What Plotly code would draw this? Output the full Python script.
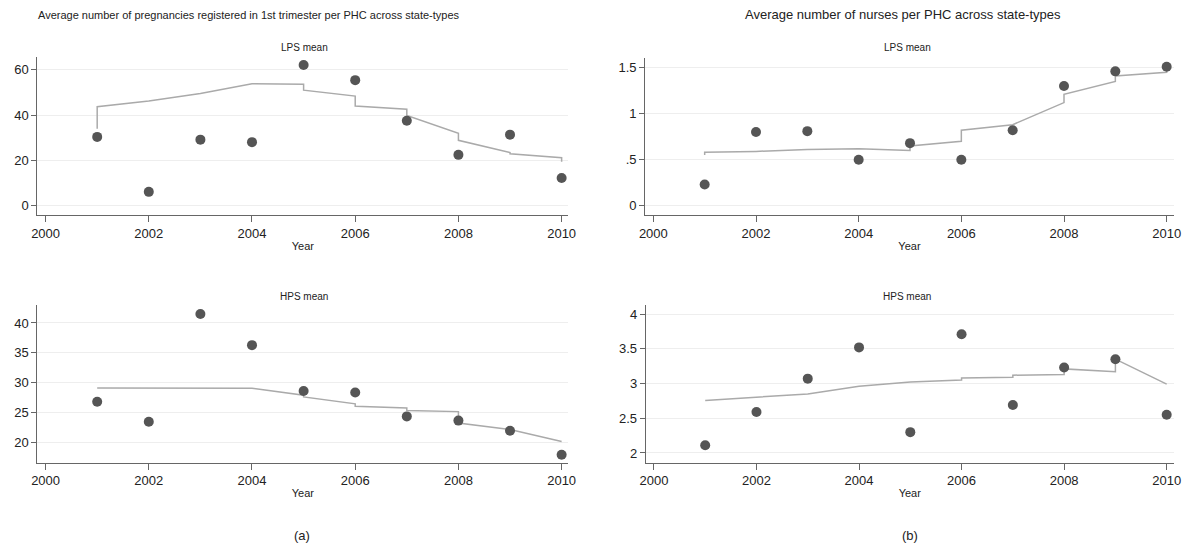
import plotly.graph_objects as go

years = [2001, 2002, 2003, 2004, 2005, 2006, 2007, 2008, 2009, 2010]

# (a) pregnancies registered in 1st trimester per PHC
preg_lps = [30.4, 6.2, 29.2, 28.1, 62.1, 55.4, 37.5, 22.5, 31.4, 12.3]
preg_lps_fit_in = [34.0, 46.2, 49.5, 53.8, 53.6, 48.4, 42.6, 32.0, 23.5, 21.2]
preg_lps_fit_out = [43.7, 46.2, 49.5, 53.8, 51.0, 44.0, 39.8, 28.9, 23.0, 19.5]

preg_hps = [26.85, 23.5, 41.5, 36.3, 28.65, 28.4, 24.4, 23.7, 22.0, 18.0]
preg_hps_fit_in = [29.15, 29.15, 29.1, 29.1, 27.95, 26.5, 25.8, 25.2, 22.2, 20.2]
preg_hps_fit_out = [29.15, 29.15, 29.1, 29.1, 27.65, 26.1, 25.4, 23.3, 22.2, 20.2]

# (b) nurses per PHC
nurse_lps = [0.23, 0.80, 0.81, 0.50, 0.68, 0.50, 0.82, 1.30, 1.46, 1.51]
nurse_lps_fit_in = [0.55, 0.59, 0.61, 0.62, 0.60, 0.70, 0.88, 1.12, 1.35, 1.45]
nurse_lps_fit_out = [0.58, 0.59, 0.61, 0.62, 0.65, 0.82, 0.88, 1.21, 1.41, 1.49]

nurse_hps = [2.11, 2.59, 3.07, 3.52, 2.30, 3.71, 2.69, 3.23, 3.35, 2.55]
nurse_hps_fit_in = [2.755, 2.80, 2.85, 2.96, 3.01, 3.05, 3.09, 3.13, 3.17, 2.99]
nurse_hps_fit_out = [2.755, 2.80, 2.85, 2.96, 3.02, 3.08, 3.12, 3.21, 3.35, 2.99]

x_ticks = [2000, 2002, 2004, 2006, 2008, 2010]
preg_lps_ticks = [0, 20, 40, 60]
preg_hps_ticks = [20, 25, 30, 35, 40]
nurse_lps_ticks = [0, 0.5, 1, 1.5]
nurse_lps_ticktext = ["0", ".5", "1", "1.5"]
nurse_hps_ticks = [2, 2.5, 3, 3.5, 4]
nurse_hps_ticktext = ["2", "2.5", "3", "3.5", "4"]

FONT = "Liberation Sans Narrow, Arial Narrow, Liberation Sans, Arial, sans-serif"
MARK = "#555555"
FITC = "#aaaaaa"

fig = go.Figure()

panels = [
    ("x", "y", preg_lps, preg_lps_fit_in, preg_lps_fit_out),
    ("x2", "y2", nurse_lps, nurse_lps_fit_in, nurse_lps_fit_out),
    ("x3", "y3", preg_hps, preg_hps_fit_in, preg_hps_fit_out),
    ("x4", "y4", nurse_hps, nurse_hps_fit_in, nurse_hps_fit_out),
]

for xa, ya, pts, fin, fout in panels:
    fx, fy = [], []
    for yr, a, b in zip(years, fin, fout):
        fx += [yr, yr]
        fy += [a, b]
    fig.add_trace(go.Scatter(x=fx, y=fy, mode="lines", xaxis=xa, yaxis=ya,
                             line=dict(color=FITC, width=1.5), showlegend=False,
                             hoverinfo="skip"))
    fig.add_trace(go.Scatter(x=years, y=pts, mode="markers", xaxis=xa, yaxis=ya,
                             marker=dict(color=MARK, size=10), showlegend=False))

W, H = 1195, 547
def xd(a, b):
    return [a / W, b / W]
def yd(top, bot):
    return [1 - bot / H, 1 - top / H]

common_x = dict(showgrid=False, zeroline=False, showline=True, linecolor="#666666",
                linewidth=1, ticks="outside", ticklen=6, tickcolor="#666666",
                tickvals=x_ticks, tickfont=dict(family=FONT, size=13, color="#222222"),
                title=dict(text="Year", font=dict(family=FONT, size=11, color="#222222"),
                           standoff=2))
common_y = dict(showgrid=True, gridcolor="#eeeeee", gridwidth=1, zeroline=False,
                showline=True, linecolor="#666666", linewidth=1, ticks="outside",
                ticklen=5, tickcolor="#666666",
                tickfont=dict(family=FONT, size=13, color="#222222"))

fig.update_layout(
    width=W, height=H, margin=dict(l=0, r=0, t=0, b=0),
    plot_bgcolor="white", paper_bgcolor="white",
    xaxis=dict(common_x, domain=xd(31.7, 569), range=[1999.84, 2010.13], anchor="y"),
    yaxis=dict(common_y, domain=yd(57, 215), range=[-4.0, 65.6], anchor="x",
               tickvals=preg_lps_ticks),
    xaxis2=dict(common_x, domain=xd(646.7, 1181.7), range=[1999.84, 2010.14], anchor="y2"),
    yaxis2=dict(common_y, domain=yd(58, 215), range=[-0.101, 1.605], anchor="x2",
                tickvals=nurse_lps_ticks, ticktext=nurse_lps_ticktext),
    xaxis3=dict(common_x, domain=xd(31.7, 569), range=[1999.84, 2010.13], anchor="y3"),
    yaxis3=dict(common_y, domain=yd(305, 462.7), range=[16.67, 43.0], anchor="x3",
                tickvals=preg_hps_ticks),
    xaxis4=dict(common_x, domain=xd(647.3, 1181.7), range=[1999.84, 2010.14], anchor="y4"),
    yaxis4=dict(common_y, domain=yd(305, 462.7), range=[1.86, 4.13], anchor="x4",
                tickvals=nurse_hps_ticks, ticktext=nurse_hps_ticktext),
)

def ann(text, x, y, size):
    fig.add_annotation(text=text, x=x / W, y=1 - y / H, xref="paper", yref="paper",
                       showarrow=False, xanchor="center", yanchor="middle",
                       font=dict(family=FONT, size=size, color="#222222"))

ann("Average number of pregnancies registered in 1st trimester per PHC across state-types", 246, 15, 11)
ann("Average number of nurses per PHC across state-types", 908, 15, 13)
ann("LPS mean", 302, 48, 10)
ann("LPS mean", 912, 48, 10)
ann("HPS mean", 302, 296, 10)
ann("HPS mean", 912, 296, 10)
ann("(a)", 300, 535, 13)
ann("(b)", 915, 535, 13)

fig.write_html("out.html")
